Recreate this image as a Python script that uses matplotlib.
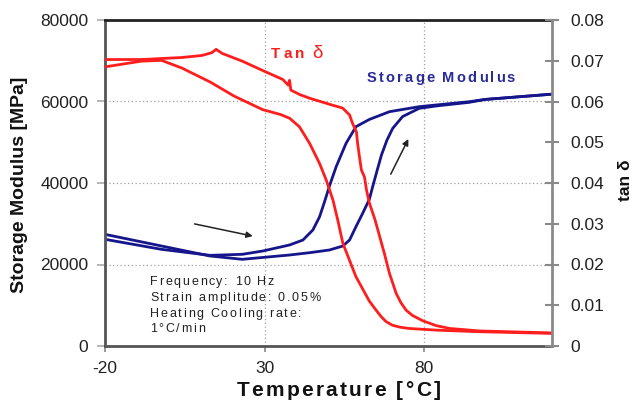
import numpy as np
import matplotlib
matplotlib.use('Agg')
import matplotlib.pyplot as plt
from matplotlib import font_manager
from matplotlib.ft2font import FT2Font

# ---------------- data ----------------
temp_E_heat = [-20, -2.3, 12.9, 23.0, 37.8, 44.1, 50.3, 54.5, 56.6, 58.6, 60.7, 62.8,
               63.9, 65.2, 66.6, 68.3, 70.1, 73.2, 78.4, 83.7, 94.1, 99.0, 120.0]
E_heat = [27400, 24540, 22090, 21270, 22330, 22900, 23560, 24540, 26010, 29280, 32560,
          36000, 39300, 43000, 46900, 50500, 53400, 56300, 58320, 58900, 59800, 60500,
          61800]

temp_E_cool = [-20, -2.3, 12.9, 23.0, 29.4, 37.8, 42.0, 45.1, 47.2, 48.8, 50.4, 52.4,
               55.5, 58.6, 62.8, 69.1, 78.4, 94.1, 99.0, 120.0]
E_cool = [26180, 23720, 22250, 22500, 23310, 24790, 26010, 28470, 31700, 35500, 39500,
          44000, 49740, 53820, 55600, 57500, 58730, 59950, 60500, 61800]

temp_tan_heat = [-20, -8.6, 4.1, 10.4, 13.5, 14.8, 16.7, 23.0, 29.4, 35.7, 37.4, 37.8,
                 38.2, 41.0, 44.1, 51.25, 54.4, 56.6, 57.5, 58.75, 59.1, 59.7, 60.3,
                 61.25, 61.9, 62.8, 64.6, 67.5, 69.1, 71.2, 72.7, 74.3, 76.3, 79.5,
                 83.7, 88.0, 97.2, 120.0]
tan_heat = [0.0703, 0.0703, 0.0708, 0.0713, 0.0720, 0.0728, 0.0718, 0.0699, 0.0676,
            0.0654, 0.0640, 0.0652, 0.0628, 0.0617, 0.0608, 0.0591, 0.0584, 0.0567,
            0.0547, 0.0525, 0.0498, 0.0464, 0.0432, 0.0415, 0.0383, 0.0351, 0.0309,
            0.0227, 0.0178, 0.0129, 0.0106, 0.0088, 0.0075, 0.0062, 0.0050, 0.0043,
            0.0037, 0.0032]

temp_tan_cool = [-20, -8.6, -2.3, 4.1, 12.9, 20.5, 29.4, 35.0, 37.8, 40.9, 44.1, 47.2,
                 49.3, 51.4, 52.9, 54.5, 58.6, 62.8, 64.9, 66.5, 68.0, 70.0, 72.5,
                 75.3, 83.7, 97.2, 120.0]
tan_cool = [0.0685, 0.0699, 0.0701, 0.0682, 0.0648, 0.0613, 0.0580, 0.0568, 0.0559,
            0.0538, 0.0497, 0.0448, 0.0407, 0.0358, 0.0309, 0.0252, 0.0170, 0.0110,
            0.0088, 0.0072, 0.0060, 0.0051, 0.0046, 0.0043, 0.0039, 0.0035, 0.0031]

x_ticks = [-20, 30, 80]
E_ticks = [0, 20000, 40000, 60000, 80000]
tan_ticks = [0, 0.01, 0.02, 0.03, 0.04, 0.05, 0.06, 0.07, 0.08]
tan_tick_labels = ['0', '0.01', '0.02', '0.03', '0.04', '0.05', '0.06', '0.07', '0.08']
info_lines = ['Frequency: 10 Hz', 'Strain amplitude: 0.05%',
              'Heating Cooling rate:', '1\u00b0C/min']

# ---------------- figure ----------------
W, H = 634, 400
FAM = 'Liberation Sans'
plt.rcParams['font.family'] = [FAM, 'DejaVu Sans']
plt.rcParams['axes.unicode_minus'] = False
fig = plt.figure(figsize=(W / 100, H / 100), dpi=100)
ax = fig.add_axes([105 / W, 1 - 346 / H, (552 - 105) / W, (346 - 20) / H])
ax.set_xlim(-20, 120)
ax.set_ylim(0, 80000)
ax.set_xticks(x_ticks)
ax.set_xticklabels([str(v) for v in x_ticks])
ax.set_yticks(E_ticks)
ax.set_yticklabels([str(v) for v in E_ticks])
ax.grid(True, linestyle=(0, (1, 2)), color='#a0a0a0', linewidth=0.9)
ax.set_axisbelow(True)

BLUE = '#15158c'
RED = '#ff1e1e'
ax.plot(temp_E_heat, E_heat, color=BLUE, lw=2.0, solid_joinstyle='round')
ax.plot(temp_E_cool, E_cool, color=BLUE, lw=2.0, solid_joinstyle='round')

ax2 = ax.twinx()
ax2.set_ylim(0, 0.08)
ax2.set_yticks(tan_ticks)
ax2.set_yticklabels(tan_tick_labels)
ax2.plot(temp_tan_heat, tan_heat, color=RED, lw=2.0, solid_joinstyle='round')
ax2.plot(temp_tan_cool, tan_cool, color=RED, lw=2.0, solid_joinstyle='round')

# spines
for sp in ['left', 'bottom']:
    ax.spines[sp].set_color('#555555')
    ax.spines[sp].set_linewidth(2)
ax.spines['top'].set_color('#222222')
ax.spines['top'].set_linewidth(2)
ax.spines['right'].set_visible(False)
for sp in ['left', 'bottom', 'top']:
    ax2.spines[sp].set_visible(False)
ax2.spines['right'].set_color('#8a8a8a')
ax2.spines['right'].set_linewidth(2)

ax.tick_params(axis='x', direction='out', length=4, width=1.2, color='#888888',
               pad=7, labelsize=12.5, labelcolor='#222222')
ax.tick_params(axis='y', direction='out', length=6, width=1.2, color='#aaaaaa',
               pad=6, labelsize=12.5, labelcolor='#222222')
ax2.tick_params(axis='y', direction='inout', length=10, width=1.5, color='#8a8a8a',
                pad=8, labelsize=12.5, labelcolor='#222222')

# arrows
ax.annotate('', xy=(27.1, 26830), xytext=(7.2, 30100),
            arrowprops=dict(arrowstyle='-|>', color='#222222', lw=1.1, mutation_scale=9))
ax.annotate('', xy=(75.4, 51400), xytext=(69.1, 41550),
            arrowprops=dict(arrowstyle='-|>', color='#222222', lw=1.1, mutation_scale=9))


# ---------------- letter-spaced text helper ----------------
def advances(s, size, weight):
    fp = font_manager.FontProperties(family=FAM, weight=weight, size=size)
    f = FT2Font(font_manager.findfont(fp))
    f.set_size(size, 100)
    return [f.load_char(ord(c)).linearHoriAdvance / 65536 for c in s]


def spaced(x_px, y_px, s, size, weight='bold', color='#111111', sp=1.0, ha='left'):
    adv = advances(s, size, weight)
    total = sum(adv) + sp * (len(s) - 1)
    x = x_px - total / 2 if ha == 'center' else x_px
    for c, a in zip(s, adv):
        if c != ' ':
            fig.text(x / W, 1 - y_px / H, c, fontsize=size, weight=weight, color=color,
                     family=[FAM, 'DejaVu Sans'], ha='left', va='baseline')
        x += a + sp
    return x


# axis labels
spaced(338.5, 396, 'Temperature [\u00b0C]', 15, 'bold', '#111111', sp=2.3, ha='center')
fig.text(20 / W, 1 - 185 / H, 'Storage Modulus [MPa]', rotation=90, fontsize=14,
         weight='bold', color='#111111', ha='center', va='center')
fig.text(626 / W, 1 - 180 / H, 'tan \u03b4', rotation=90, fontsize=12.5,
         weight='bold', color='#111111', ha='center', va='center')

# curve labels
spaced(271, 58, 'Tan', 11, 'bold', RED, sp=3.0)
fig.text(312 / W, 1 - 58 / H, '\u03b4', fontsize=13.5, color=RED, ha='left', va='baseline')
spaced(367, 82, 'Storage Modulus', 10.5, 'bold', '#2a2a9a', sp=2.1)

# info box text
for i, line in enumerate(info_lines):
    spaced(150, 285 + i * 15.8, line, 9, 'normal', '#222222', sp=1.7)

fig.savefig('out.png', dpi=100)
